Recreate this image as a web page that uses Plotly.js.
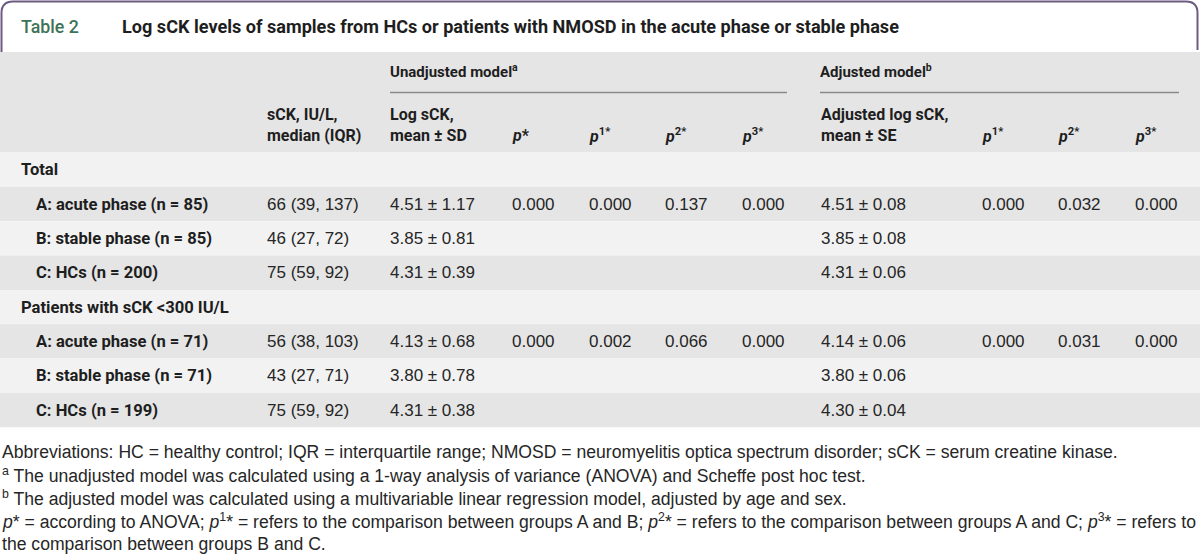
<!DOCTYPE html>
<html><head><meta charset="utf-8">
<script src="https://cdn.plot.ly/plotly-3.0.1.min.js"></script>
<style>html,body{margin:0;padding:0;background:#fff;overflow:hidden}</style>
</head><body><div id="chart" style="width:1200px;height:555px"></div>
<script>
// ---- data ----
const tableNumber = "Table 2";
const titleText = "Log sCK levels of samples from HCs or patients with NMOSD in the acute phase or stable phase";
const groupHeaders = ["Unadjusted model<sup>a</sup>", "Adjusted model<sup>b</sup>"];
const columnHeaders = [
  "sCK, IU/L,<br>median (IQR)",
  "Log sCK,<br>mean ± SD",
  "<i>p</i>*",
  "<i>p</i><sup>1*</sup>",
  "<i>p</i><sup>2*</sup>",
  "<i>p</i><sup>3*</sup>",
  "Adjusted log sCK,<br>mean ± SE",
  "<i>p</i><sup>1*</sup>",
  "<i>p</i><sup>2*</sup>",
  "<i>p</i><sup>3*</sup>"
];
const rowLabels = [
  "Total",
  "A: acute phase (n = 85)",
  "B: stable phase (n = 85)",
  "C: HCs (n = 200)",
  "Patients with sCK &lt;300 IU/L",
  "A: acute phase (n = 71)",
  "B: stable phase (n = 71)",
  "C: HCs (n = 199)"
];
const rowIsSection = [true, false, false, false, true, false, false, false];
const sckMedianIQR   = ["", "66 (39, 137)", "46 (27, 72)", "75 (59, 92)", "", "56 (38, 103)", "43 (27, 71)", "75 (59, 92)"];
const logSckMeanSD   = ["", "4.51 ± 1.17", "3.85 ± 0.81", "4.31 ± 0.39", "", "4.13 ± 0.68", "3.80 ± 0.78", "4.31 ± 0.38"];
const pAnova         = ["", "0.000", "", "", "", "0.000", "", ""];
const p1Unadjusted   = ["", "0.000", "", "", "", "0.002", "", ""];
const p2Unadjusted   = ["", "0.137", "", "", "", "0.066", "", ""];
const p3Unadjusted   = ["", "0.000", "", "", "", "0.000", "", ""];
const adjLogSckMeanSE= ["", "4.51 ± 0.08", "3.85 ± 0.08", "4.31 ± 0.06", "", "4.14 ± 0.06", "3.80 ± 0.06", "4.30 ± 0.04"];
const p1Adjusted     = ["", "0.000", "", "", "", "0.000", "", ""];
const p2Adjusted     = ["", "0.032", "", "", "", "0.031", "", ""];
const p3Adjusted     = ["", "0.000", "", "", "", "0.000", "", ""];
const footnotes = [
  "Abbreviations: HC = healthy control; IQR = interquartile range; NMOSD = neuromyelitis optica spectrum disorder; sCK = serum creatine kinase.",
  "<sup>a</sup> The unadjusted model was calculated using a 1-way analysis of variance (ANOVA) and Scheffe post hoc test.",
  "<sup>b</sup> The adjusted model was calculated using a multivariable linear regression model, adjusted by age and sex.",
  "<i>p</i>* = according to ANOVA; <i>p</i><sup>1</sup>* = refers to the comparison between groups A and B; <i>p</i><sup>2</sup>* = refers to the comparison between groups A and C; <i>p</i><sup>3</sup>* = refers to",
  "the comparison between groups B and C."
];

// ---- layout config ----
const W = 1200, H = 555;
const dataCols = [sckMedianIQR, logSckMeanSD, pAnova, p1Unadjusted, p2Unadjusted, p3Unadjusted, adjLogSckMeanSE, p1Adjusted, p2Adjusted, p3Adjusted];
const colX = [266, 389, 511, 588, 664, 741, 820, 981, 1057, 1134];
const groupSpan = [[390, 787], [820, 1179]];
const headerTop = 52, headerBottom = 152.5, rowH = 34.35;
const rowCenter = i => headerBottom + rowH * (i + 0.5);
const darkBg = "#e5e5e5", lightBg = "#f2f2f2";
const headFont = {family: "Roboto, 'Liberation Sans', sans-serif", size: 16, color: "#1e1e1e"};
const groupFont = {family: "Roboto, 'Liberation Sans', sans-serif", size: 15, color: "#1e1e1e"};
const labelFont = {family: "Roboto, 'Liberation Sans', sans-serif", size: 16.6, color: "#1e1e1e"};
const cellFont = {family: "'Liberation Sans', Arial, sans-serif", size: 17, color: "#262626"};
const noteFont = {family: "'Liberation Sans', Arial, sans-serif", size: 17.6, color: "#262626"};

const shapes = [];
const annotations = [];
// header band
shapes.push({type: "rect", xref: "x", yref: "y", x0: 0, x1: W, y0: headerTop, y1: headerBottom, fillcolor: darkBg, line: {width: 0}, layer: "below"});
rowLabels.forEach((_, i) => {
  shapes.push({type: "rect", xref: "x", yref: "y", x0: 0, x1: W,
    y0: headerBottom + rowH * i, y1: headerBottom + rowH * (i + 1),
    fillcolor: i % 2 === 0 ? lightBg : darkBg, line: {width: 0}, layer: "below"});
});
// purple frame for title
shapes.push({type: "path", xref: "x", yref: "y",
  path: "M 1.5 52 L 1.5 13 Q 1.5 1.5 13 1.5 L 1186 1.5 Q 1197.5 1.5 1197.5 13 L 1197.5 50",
  line: {color: "#6f5b81", width: 2}});
// group header underlines
groupSpan.forEach(s => shapes.push({type: "line", xref: "x", yref: "y", x0: s[0], x1: s[1], y0: 92.5, y1: 92.5, line: {color: "#8a8a8a", width: 1.5}}));

function ann(x, y, text, font, extra) {
  annotations.push(Object.assign({x: x, y: y, xref: "x", yref: "y", text: text, showarrow: false,
    xanchor: "left", yanchor: "middle", align: "left", font: font, borderpad: 0}, extra || {}));
}
ann(20, 26, tableNumber, {family: "Roboto, sans-serif", size: 17.8, color: "#3f7358", weight: 500});
ann(121, 26, "<b>" + titleText + "</b>", {family: "Roboto, sans-serif", size: 18.1, color: "#1e1e1e"});
ann(groupSpan[0][0] - 1, 71, "<b>" + groupHeaders[0] + "</b>", groupFont);
ann(groupSpan[1][0] - 1, 71, "<b>" + groupHeaders[1] + "</b>", groupFont);
columnHeaders.forEach((t, j) => {
  const two = t.indexOf("<br>") >= 0;
  ann(colX[j], two ? 125 : 135.5, "<b>" + t + "</b>", headFont);
});
rowLabels.forEach((t, i) => {
  ann(rowIsSection[i] ? 20 : 35, rowCenter(i), "<b>" + t + "</b>", labelFont);
  dataCols.forEach((col, j) => { if (col[i]) ann(colX[j], rowCenter(i), col[i], cellFont); });
});
const noteY = [452, 475, 498, 521, 544];
footnotes.forEach((t, k) => ann(1, noteY[k], t, noteFont));

const layout = {
  width: W, height: H, margin: {l: 0, r: 0, t: 0, b: 0},
  paper_bgcolor: "#ffffff", plot_bgcolor: "#ffffff",
  xaxis: {range: [0, W], visible: false, fixedrange: true},
  yaxis: {range: [H, 0], visible: false, fixedrange: true},
  showlegend: false, shapes: shapes, annotations: annotations
};
Plotly.newPlot("chart", [], layout, {displayModeBar: false, staticPlot: true});
</script></body></html>
